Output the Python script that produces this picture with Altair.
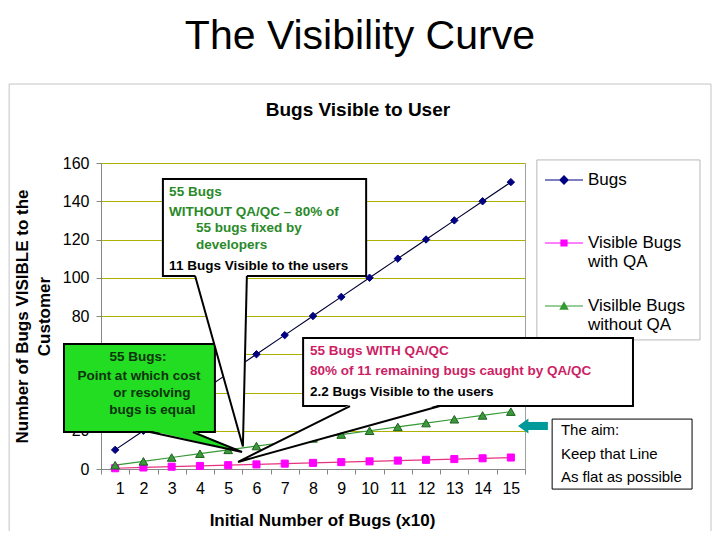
import altair as alt
import pandas as pd

FONT = "Liberation Sans"

# ---------------- data ----------------
x_cat = [1, 2, 3, 4, 5, 6, 7, 8, 9, 10, 11, 12, 13, 14, 15]
bugs = [10, 20, 30, 40, 50, 60, 70, 80, 90, 100, 110, 120, 130, 140, 150]
with_qa = [0.4, 0.8, 1.2, 1.6, 2.0, 2.4, 2.8, 3.2, 3.6, 4.0, 4.4, 4.8, 5.2, 5.6, 6.0]
without_qa = [2, 4, 6, 8, 10, 12, 14, 16, 18, 20, 22, 24, 26, 28, 30]

series_names = ["Bugs", "Visible Bugs with QA", "Visilble Bugs without QA"]
line_colors = ["#000033", "#e6337f", "#339933"]
legend_colors = ["#000080", "#ff00ff", "#339933"]
marker_shapes = ["diamond", "square", "triangle-up"]
marker_fill = ["#000080", "#ff00ff", "#3a9a3a"]
marker_stroke = ["#000080", "#ff00ff", "#1f5f1f"]
marker_size = [55, 50, 75]
legend_paths = [
    "M-1,-0.03L1,-0.03L1,0.03L-1,0.03ZM0,-0.26L0.26,0L0,0.26L-0.26,0Z",
    "M-1,-0.03L1,-0.03L1,0.03L-1,0.03ZM-0.19,-0.19L0.19,-0.19L0.19,0.19L-0.19,0.19Z",
    "M-1,-0.03L1,-0.03L1,0.03L-1,0.03ZM0,-0.25L0.25,0.2L-0.25,0.2Z",
]

x_ticks = [0.5, 1.5, 2.5, 3.5, 4.5, 5.5, 6.5, 7.5, 8.5, 9.5, 10.5, 11.5, 12.5, 13.5, 14.5, 15.5]
y_ticks = [0, 20, 40, 60, 80, 100, 120, 140, 160]

rows = []
for i, (name, vals) in enumerate(zip(series_names, [bugs, with_qa, without_qa])):
    for xv, yv in zip(x_cat, vals):
        rows.append({"series": name, "x": xv, "y": yv,
                     "lcolor": line_colors[i], "shape": marker_shapes[i],
                     "mfill": marker_fill[i], "mstroke": marker_stroke[i],
                     "msize": marker_size[i]})
df = pd.DataFrame(rows)

# ---------------- annotations (data units) ----------------
boxes = pd.DataFrame([
    {"x": 2.69, "x2": 9.88, "y": 151.6, "y2": 100.9, "fill": "#ffffff", "sw": 2},
    {"x": -0.81, "x2": 4.53, "y": 65.4, "y2": 19.3, "fill": "#22dd22", "sw": 2},
    {"x": 7.65, "x2": 19.32, "y": 68.5, "y2": 32.9, "fill": "#ffffff", "sw": 2},
    {"x": 16.46, "x2": 21.41, "y": 26.1, "y2": -10.5, "fill": "#ffffff", "sw": 1},
])
frame = pd.DataFrame([{"x": -2.75, "x2": 22.08, "y": 201.3, "y2": -39.7}])
legend_box = pd.DataFrame([{"x": 15.92, "x2": 21.69, "y": 161.6, "y2": 67.5}])

pointers = [
    ("p1", [(3.83, 101.7), (5.66, 101.7), (5.52, 11.8)], "#ffffff"),
    ("p2", [(2.23, 20.1), (3.75, 20.1), (5.49, 8.9)], "#22dd22"),
    ("p3", [(9.31, 33.7), (12.49, 33.7), (5.35, 3.7)], "#ffffff"),
    ("arrow", [(15.25, 22.5), (15.62, 26.4), (15.62, 18.6)], "#009999"),
]
pointer_edges = [
    ("p1", [(3.83, 100.9), (5.52, 11.8), (5.66, 100.9)]),
    ("p2", [(2.23, 19.3), (5.49, 8.9), (3.75, 19.3)]),
    ("p3", [(9.31, 32.9), (5.35, 3.7), (12.49, 32.9)]),
]
arrow_shaft = pd.DataFrame([{"x": 15.57, "x2": 16.31, "y": 24.6, "y2": 20.4}])


def tri_rows(pid, pts, fill):
    out = []
    xs = sorted(set(p[0] for p in pts))
    edges = [(pts[0], pts[1]), (pts[1], pts[2]), (pts[2], pts[0])]
    for xv in xs:
        ys = []
        for (px, py), (qx, qy) in edges:
            if min(px, qx) - 1e-9 <= xv <= max(px, qx) + 1e-9:
                if abs(qx - px) < 1e-9:
                    ys += [py, qy]
                else:
                    ys.append(py + (xv - px) * (qy - py) / (qx - px))
        out.append({"pid": pid, "x": xv, "y": min(ys), "y2": max(ys), "fill": fill})
    return out


area_rows = []
for pid, pts, fill in pointers:
    area_rows += tri_rows(pid, pts, fill)
areas = pd.DataFrame(area_rows)

edge_rows = []
for pid, pts in pointer_edges:
    for k, (xv, yv) in enumerate(pts):
        edge_rows.append({"pid": pid, "x": xv, "y": yv, "k": k})
edges = pd.DataFrame(edge_rows)

GREEN_T = "#2a8a2a"
RED_T = "#cc1f66"
bold_left = pd.DataFrame([
    {"t": "55 Bugs", "x": 2.91, "y": 145.0, "c": GREEN_T},
    {"t": "WITHOUT QA/QC – 80%  of", "x": 2.91, "y": 134.5, "c": GREEN_T},
    {"t": "55 bugs fixed by", "x": 3.86, "y": 125.8, "c": GREEN_T},
    {"t": "developers", "x": 3.86, "y": 117.1, "c": GREEN_T},
    {"t": "11 Bugs Visible to the users", "x": 2.91, "y": 106.3, "c": "#000000"},
    {"t": "55 Bugs WITH QA/QC", "x": 7.89, "y": 61.9, "c": RED_T},
    {"t": "80%  of 11 remaining bugs caught by QA/QC", "x": 7.89, "y": 51.4, "c": RED_T},
    {"t": "2.2 Bugs Visible to the users", "x": 7.89, "y": 40.4, "c": "#000000"},
])
bold_center = pd.DataFrame([
    {"t": "55 Bugs:", "x": 1.81, "y": 58.6},
    {"t": "Point at which cost", "x": 1.84, "y": 48.6},
    {"t": "or resolving", "x": 2.30, "y": 39.7},
    {"t": "bugs is equal", "x": 2.32, "y": 30.8},
])
aim_text = pd.DataFrame([
    {"t": "The aim:", "x": 16.77, "y": 20.4},
    {"t": "Keep that Line", "x": 16.77, "y": 7.8},
    {"t": "As flat as possible", "x": 16.77, "y": -4.0},
])
slide_title = pd.DataFrame([{"t": "The Visibility Curve", "x": 9.66, "y": 226.0}])
chart_title = pd.DataFrame([{"t": "Bugs Visible to User", "x": 9.59, "y": 187.7}])

# ---------------- scales / axes ----------------
XS = alt.Scale(domain=[0.5, 15.5], nice=False, zero=False)
YS = alt.Scale(domain=[0, 160], nice=False, zero=False)
X_AXIS = alt.Axis(values=x_ticks, grid=False, labelExpr="datum.value > 15 ? '' : format(datum.value + 0.5, 'd')",
                  labelOffset=14.13, labelFontSize=16, labelFont=FONT, labelColor="#000000", labelPadding=6,
                  tickSize=5, tickColor="#868686", domainColor="#868686",
                  title="Initial Number of Bugs (x10)", titleFont=FONT, titleFontSize=17,
                  titleFontWeight="bold", titleColor="#000000", titleX=221, titleY=51, titleBaseline="middle")
Y_AXIS = alt.Axis(values=y_ticks, grid=True, gridColor="#b0b000", gridWidth=1,
                  labelFontSize=16, labelFont=FONT, labelColor="#000000", labelPadding=7,
                  tickSize=5, tickColor="#868686", domainColor="#868686",
                  title=["Number of Bugs VISIBLE to the", "Customer"], titleFont=FONT, titleFontSize=17,
                  titleFontWeight="bold", titleColor="#000000", titleAngle=270, titleX=-79, titleY=153,
                  titleBaseline="middle", titleLineHeight=22)


def X(f="x"):
    return alt.X(f + ":Q", scale=XS, axis=X_AXIS)


def Y(f="y"):
    return alt.Y(f + ":Q", scale=YS, axis=Y_AXIS)


frame_l = alt.Chart(frame).mark_rect(fillOpacity=0, stroke="#c4c4c4", strokeWidth=1).encode(
    x=X(), x2="x2", y=Y(), y2="y2")
legbox_l = alt.Chart(legend_box).mark_rect(fill="#ffffff", stroke="#b8b8b8", strokeWidth=1).encode(
    x=X(), x2="x2", y=Y(), y2="y2")

lines_l = alt.Chart(df).mark_line(strokeWidth=1.2).encode(
    x=X(), y=Y(), detail="series:N", color=alt.Color("lcolor:N", scale=None))
points_l = alt.Chart(df).mark_point(filled=True, opacity=1, strokeWidth=1).encode(
    x=X(), y=Y(),
    shape=alt.Shape("shape:N", scale=None),
    fill=alt.Fill("mfill:N", scale=None),
    stroke=alt.Stroke("mstroke:N", scale=None),
    size=alt.Size("msize:Q", scale=None))

boxes_l = alt.Chart(boxes).mark_rect(stroke="#000000").encode(
    x=X(), x2="x2", y=Y(), y2="y2",
    fill=alt.Fill("fill:N", scale=None),
    strokeWidth=alt.StrokeWidth("sw:Q", scale=None))
areas_l = alt.Chart(areas).mark_area(opacity=1).encode(
    x=X(), y=Y(), y2="y2", detail="pid:N", color=alt.Color("fill:N", scale=None))
edges_l = alt.Chart(edges).mark_line(color="#000000", strokeWidth=2).encode(
    x=X(), y=Y(), detail="pid:N", order="k:Q")
shaft_l = alt.Chart(arrow_shaft).mark_rect(fill="#009999").encode(
    x=X(), x2="x2", y=Y(), y2="y2")

bl_l = alt.Chart(bold_left).mark_text(align="left", baseline="middle", font=FONT, fontSize=13.5,
                                      fontWeight="bold").encode(
    x=X(), y=Y(), text="t:N", color=alt.Color("c:N", scale=None))
bc_l = alt.Chart(bold_center).mark_text(align="center", baseline="middle", font=FONT, fontSize=13.5,
                                        fontWeight="bold", color="#0d330d").encode(
    x=X(), y=Y(), text="t:N")
aim_l = alt.Chart(aim_text).mark_text(align="left", baseline="middle", font=FONT, fontSize=15,
                                      color="#000000").encode(
    x=X(), y=Y(), text="t:N")
st_l = alt.Chart(slide_title).mark_text(align="center", baseline="middle", font=FONT, fontSize=41,
                                        color="#000000").encode(
    x=X(), y=Y(), text="t:N")
ct_l = alt.Chart(chart_title).mark_text(align="center", baseline="middle", font=FONT, fontSize=19,
                                        fontWeight="bold", color="#000000").encode(
    x=X(), y=Y(), text="t:N")

label_expr = ("datum.label == 'Bugs' ? ['Bugs', '\u00a0'] : "
              "datum.label == 'Visible Bugs with QA' ? ['Visible Bugs', 'with QA'] : "
              "['Visilble Bugs', 'without QA']")
LEG = alt.Legend(orient="none", legendX=444, legendY=-2, title=None, padding=0,
                 symbolSize=1444, symbolStrokeWidth=0, labelFont=FONT, labelFontSize=17,
                 labelColor="#000000", labelOffset=5, labelLimit=220, rowPadding=17,
                 labelExpr=label_expr)
legend_df = pd.DataFrame({"series": series_names})
leg_l = alt.Chart(legend_df).mark_point(filled=True, opacity=1, size=1444).encode(
    color=alt.Color("series:N", scale=alt.Scale(domain=series_names, range=legend_colors), legend=LEG),
    shape=alt.Shape("series:N", scale=alt.Scale(domain=series_names, range=legend_paths), legend=LEG),
).transform_filter("false")

chart = alt.layer(
    frame_l, legbox_l, lines_l, points_l, boxes_l, areas_l, edges_l, shaft_l,
    bl_l, bc_l, aim_l, st_l, ct_l, leg_l
).properties(
    width=424, height=306,
    padding={"left": 93, "top": 155, "right": 187, "bottom": 62},
    autosize=alt.AutoSizeParams(type="none"),
    background="#ffffff",
).configure_view(
    fill="#ffff00", stroke="#a0a0a0", strokeWidth=1
)

chart.save("out.html", embed_options={"renderer": "svg", "actions": False})
